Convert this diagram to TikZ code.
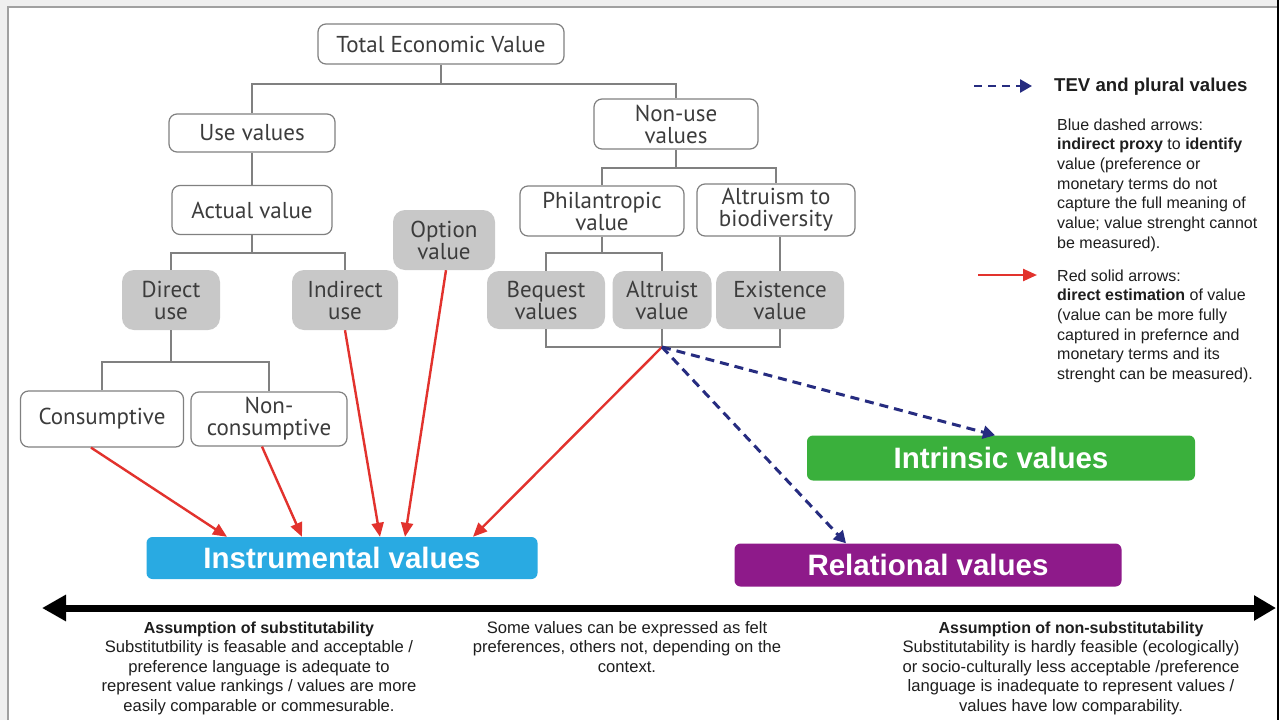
\documentclass[tikz,border=0pt]{standalone}
\usepackage{fontspec}
\setmainfont{Liberation Sans}
\newfontfamily\treefont{PT Sans}
\usetikzlibrary{arrows.meta}
\definecolor{bgc}{RGB}{239,239,239}
\definecolor{framec}{RGB}{160,160,160}
\definecolor{linec}{RGB}{128,128,128}
\definecolor{treetext}{RGB}{60,60,60}
\definecolor{grayfill}{RGB}{200,200,200}
\definecolor{instrc}{RGB}{41,170,226}
\definecolor{intrc}{RGB}{58,176,60}
\definecolor{relc}{RGB}{142,26,138}
\definecolor{redc}{RGB}{226,50,45}
\definecolor{bluec}{RGB}{38,44,128}
\definecolor{textc}{RGB}{30,30,30}
\tikzset{
  wbox/.style={draw=linec, line width=1.2pt, rounded corners=8pt, fill=white, inner sep=0pt,
    align=center, text=treetext, font=\treefont\fontsize{23}{22}\selectfont},
  gbox/.style={fill=grayfill, rounded corners=12pt, inner sep=0pt,
    align=center, text=treetext, font=\treefont\fontsize{23}{22}\selectfont},
  cbox/.style={rounded corners=6pt, inner sep=0pt, text=white,
    font=\bfseries\fontsize{29.5}{30}\selectfont},
  tline/.style={draw=linec, line width=1.2pt},
  redarr/.style={draw=redc, line width=2.4pt, -{Triangle[length=14pt,width=12pt]}},
  bluearr/.style={draw=bluec, line width=3pt, dash pattern=on 9pt off 6pt,
    -{Triangle[length=12pt,width=13pt]}},
  legtext/.style={anchor=base west, inner sep=0pt, text=textc, font=\fontsize{16}{19}\selectfont},
  btext/.style={anchor=base, inner sep=0pt, text=textc, font=\fontsize{16.6}{19}\selectfont},
  bhead/.style={btext, font=\bfseries\fontsize{16}{19}\selectfont},
}
\begin{document}
\begin{tikzpicture}[x=1pt,y=-1pt]
\useasboundingbox (0,0) rectangle (1279,720);
\fill[bgc] (0,0) rectangle (1279,720);
\fill[white] (8,7) rectangle (1277,720);
\draw[framec, line width=2pt] (8,720) -- (8,7) -- (1277,7);
\draw[black, line width=2pt] (1278,0) -- (1278,720);

% tree nodes
\node[wbox, minimum width=246pt, minimum height=40pt] (tev) at (441,44) {Total Economic Value};
\node[wbox, minimum width=166pt, minimum height=38pt] (use) at (252,133) {Use values};
\node[wbox, minimum width=160pt, minimum height=49pt] (actual) at (252,210) {Actual value};
\node[gbox, minimum width=98pt, minimum height=60pt] (direct) at (171,300) {Direct\\use};
\node[gbox, minimum width=106pt, minimum height=60pt] (indirect) at (345,300) {Indirect\\use};
\node[gbox, minimum width=102pt, minimum height=60pt] (option) at (444,240) {Option\\value};
\node[wbox, minimum width=163pt, minimum height=56pt] (cons) at (102,419) {Consumptive};
\node[wbox, minimum width=156pt, minimum height=54pt] (noncons) at (269,419) {Non-\\consumptive};
\node[wbox, minimum width=164pt, minimum height=50pt] (nonuse) at (676,124) {Non-use\\values};
\node[wbox, minimum width=164pt, minimum height=50pt] (phil) at (602,211) {Philantropic\\value};
\node[wbox, minimum width=158pt, minimum height=52pt] (altruism) at (776,210) {Altruism to\\biodiversity};
\node[gbox, minimum width=118pt, minimum height=58pt] (bequest) at (546,300) {Bequest\\values};
\node[gbox, minimum width=99pt, minimum height=58pt] (altruist) at (662,300) {Altruist\\value};
\node[gbox, minimum width=128pt, minimum height=58pt] (existence) at (780,300) {Existence\\value};

% colored boxes
\node[cbox, fill=instrc, minimum width=391pt, minimum height=42pt] (instr) at (342,558) {Instrumental values};
\node[cbox, fill=intrc, minimum width=388pt, minimum height=45pt] (intr) at (1001,458) {Intrinsic values};
\node[cbox, fill=relc, minimum width=387pt, minimum height=43pt] (rel) at (928,565) {Relational values};

% tree connectors
\coordinate (j1) at (441,84);
\draw[tline] (tev.south) -- (j1);
\draw[tline] (use.north) |- (j1) -| (nonuse.north);
\draw[tline] (use.south) -- (actual.north);
\coordinate (j2) at (252,253);
\draw[tline] (actual.south) -- (j2);
\draw[tline] (direct.north) |- (j2) -| (indirect.north);
\coordinate (j3) at (171,362);
\draw[tline] (direct.south) -- (j3);
\draw[tline] (cons.north) |- (j3) -| (noncons.north);
\coordinate (j4) at (676,168);
\draw[tline] (nonuse.south) -- (j4);
\draw[tline] (phil.north) |- (j4) -| (altruism.north);
\coordinate (j5) at (602,253);
\draw[tline] (phil.south) -- (j5);
\draw[tline] (bequest.north) |- (j5) -| (altruist.north);
\draw[tline] (existence.north) -- (existence.north |- altruism.south);
\coordinate (j6) at (662,347);
\draw[tline] (bequest.south) |- (j6) -| (existence.south);
\draw[tline] (altruist.south) -- (j6);

% red arrows
\draw[redarr] ([xshift=-11pt]cons.south) -- ([xshift=-115pt]instr.north);
\draw[redarr] ([xshift=-7pt]noncons.south) -- ([xshift=-40pt]instr.north);
\draw[redarr] (indirect.south) -- ([xshift=38pt]instr.north);
\draw[redarr] ([xshift=2pt]option.south) -- ([xshift=63pt]instr.north);
\draw[redarr] (j6) -- ([xshift=131pt]instr.north);

% blue dashed arrows
\draw[bluearr] (j6) -- ([xshift=-6pt]intr.north);
\draw[bluearr] (j6) -- ([xshift=-82pt]rel.north);

% axis
\coordinate (axL) at (42,608);
\coordinate (axR) at (1276,608);
\draw[black, line width=7pt, {Triangle[length=24pt,width=25pt]}-{Triangle[length=22pt,width=24pt]}] (axL) -- (axR);

% legend
\coordinate (lb1) at (974,86);
\coordinate (lb2) at (1032,86);
\draw[bluearr, line width=2.6pt, dash pattern=on 8pt off 6pt] (lb1) -- (lb2);
\node[legtext, font=\bfseries\fontsize{18.6}{20}\selectfont] (legt) at (1054,91) {TEV and plural values};
\node[legtext] (lg1) at (1057,130) {Blue dashed arrows:};
\node[legtext] (lg2) at (1057,149.7) {\textbf{indirect proxy} to \textbf{identify}};
\node[legtext] (lg3) at (1057,169.4) {value (preference or};
\node[legtext] (lg4) at (1057,189.1) {monetary terms do not};
\node[legtext] (lg5) at (1057,208.8) {capture the full meaning of};
\node[legtext] (lg6) at (1057,228.5) {value; value strenght cannot};
\node[legtext] (lg7) at (1057,248.2) {be measured).};
\coordinate (lr1) at (978,275);
\coordinate (lr2) at (1037,275);
\draw[redarr] (lr1) -- (lr2);
\node[legtext] (lh1) at (1057,281) {Red solid arrows:};
\node[legtext] (lh2) at (1057,300.7) {\textbf{direct estimation} of value};
\node[legtext] (lh3) at (1057,320.4) {(value can be more fully};
\node[legtext] (lh4) at (1057,340.1) {captured in prefernce and};
\node[legtext] (lh5) at (1057,359.8) {monetary terms and its};
\node[legtext] (lh6) at (1057,379.5) {strenght can be measured).};

% bottom texts
\node[bhead] (bl1) at (259,633) {Assumption of substitutability};
\node[btext] (bl2) at (259,652.6) {Substitutbility is feasable and acceptable /};
\node[btext] (bl3) at (259,672.2) {preference language is adequate to};
\node[btext] (bl4) at (259,691.8) {represent value rankings / values are more};
\node[btext] (bl5) at (259,711.4) {easily comparable or commesurable.};
\node[btext] (bm1) at (627,633) {Some values can be expressed as felt};
\node[btext] (bm2) at (627,652.6) {preferences, others not, depending on the};
\node[btext] (bm3) at (627,672.2) {context.};
\node[bhead] (br1) at (1071,633) {Assumption of non-substitutability};
\node[btext] (br2) at (1071,652.6) {Substitutability is hardly feasible (ecologically)};
\node[btext] (br3) at (1071,672.2) {or socio-culturally less acceptable /preference};
\node[btext] (br4) at (1071,691.8) {language is inadequate to represent values /};
\node[btext] (br5) at (1071,711.4) {values have low comparability.};
\end{tikzpicture}
\end{document}
